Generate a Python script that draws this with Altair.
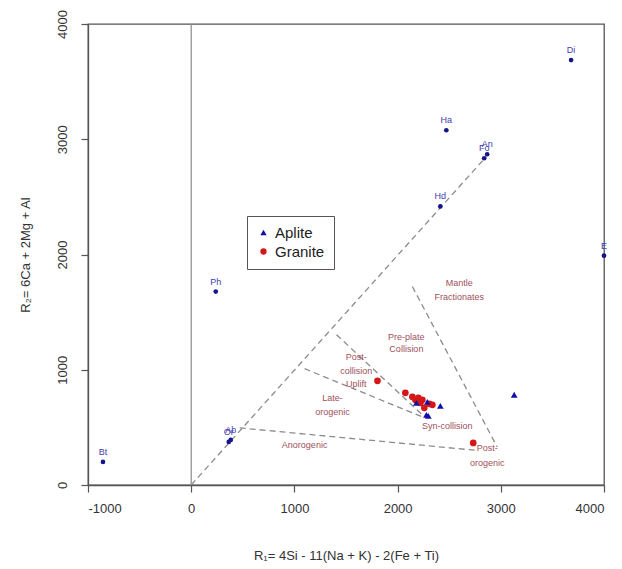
import altair as alt
import pandas as pd

# ---- data ----
granite_x = [1805, 2075, 2143, 2172, 2201, 2221, 2240, 2259, 2308, 2337, 2733]
granite_y = [904, 800, 765, 739, 757, 713, 739, 670, 704, 696, 365]
aplite_x = [2182, 2288, 2414, 2279, 2298, 3130]
aplite_y = [713, 722, 687, 609, 600, 783]

mineral_names = ["Bt", "Ph", "Or", "Ab", "Hd", "Ha", "Fo", "An", "Di", "E"]
mineral_x = [-855, 238, 364, 383, 2414, 2472, 2839, 2868, 3681, 4000]
mineral_y = [200, 1678, 374, 391, 2417, 3078, 2835, 2870, 3687, 1990]

seg_names = ["diag", "diag", "anoro", "anoro", "late", "late", "postcol", "postcol", "mantle", "mantle"]
seg_x = [0, 2860, 470, 2770, 1099, 2240, 1408, 2250, 2143, 2965]
seg_y = [0, 2850, 496, 300, 1009, 591, 1304, 600, 1722, 330]

region_text = ["Mantle", "Fractionates", "Pre-plate", "Collision", "Post-", "collision",
               "Uplift", "Late-", "orogenic", "Syn-collision", "Anorogenic", "Post-", "orogenic"]
region_x = [2598, 2598, 2085, 2085, 1600, 1600, 1600, 1370, 1370, 2482, 1099, 2868, 2868]
region_y = [1757, 1635, 1287, 1183, 1113, 991, 878, 757, 635, 513, 348, 322, 191]

x_ticks = [-1000, 0, 1000, 2000, 3000, 4000]
y_ticks = [0, 1000, 2000, 3000, 4000]

# ---- tables ----
samples = pd.DataFrame({
    "x": granite_x + aplite_x,
    "y": granite_y + aplite_y,
    "type": ["Granite"] * len(granite_x) + ["Aplite"] * len(aplite_x),
})
minerals = pd.DataFrame({"name": mineral_names, "x": mineral_x, "y": mineral_y})
segs = pd.DataFrame({"seg": seg_names, "x": seg_x, "y": seg_y, "order": list(range(len(seg_x)))})
regions = pd.DataFrame({"t": region_text, "x": region_x, "y": region_y})
zero = pd.DataFrame({"x": [0]})

xscale = alt.Scale(domain=[-1000, 4000], nice=False, zero=False)
yscale = alt.Scale(domain=[0, 4000], nice=False, zero=False)

common_axis = dict(grid=False, tickSize=7, labelExpr="'' + datum.value",
                   domainColor="#555", tickColor="#555",
                   labelColor="#333", titleColor="#333", labelFont="Liberation Sans",
                   titleFont="Liberation Sans", labelFontSize=13, titleFontSize=13,
                   titleFontWeight="normal", domainWidth=1.3, tickWidth=1.2)

xax = alt.Axis(values=x_ticks, labelPadding=10, titlePadding=34,
               title="R₁= 4Si - 11(Na + K) - 2(Fe + Ti)", **common_axis)
yax = alt.Axis(values=y_ticks, labelAngle=270, labelAlign="center",
               labelBaseline="bottom", labelPadding=12, titlePadding=24,
               title="R₂= 6Ca + 2Mg + Al", **common_axis)

X = alt.X("x:Q", scale=xscale, axis=xax)
Y = alt.Y("y:Q", scale=yscale, axis=yax)

vline = alt.Chart(zero).mark_rule(color="#8a8a8a", strokeWidth=1.2).encode(
    x=alt.X("x:Q", scale=xscale, axis=xax))

lines = alt.Chart(segs).mark_line(color="#8c8c8c", strokeWidth=1.3, strokeDash=[6, 4]).encode(
    x=X, y=Y, detail="seg:N", order="order:Q")

region_lbl = alt.Chart(regions).mark_text(color="#a0505c", fontSize=9, font="Liberation Sans").encode(
    x=X, y=Y, text="t:N")

mins = alt.Chart(minerals).mark_circle(color="#14148c", size=22, opacity=1).encode(x=X, y=Y)
min_lbl = alt.Chart(minerals).mark_text(color="#4040b0", fontSize=9, dy=-10,
                                        font="Liberation Sans").encode(x=X, y=Y, text="name:N")

leg = dict(title=None, orient="none", legendX=159, legendY=192,
           labelFontSize=15, symbolSize=40, padding=9,
           strokeColor="#555", fillColor="white", rowPadding=3,
           labelFont="Liberation Sans", labelColor="#222")

pts = alt.Chart(samples).mark_point(filled=True, size=45, opacity=1).encode(
    x=X, y=Y,
    color=alt.Color("type:N", scale=alt.Scale(domain=["Aplite", "Granite"], range=["#1010a8", "#d41818"]),
                    legend=alt.Legend(**leg)),
    shape=alt.Shape("type:N", scale=alt.Scale(domain=["Aplite", "Granite"], range=["triangle-up", "circle"]),
                    legend=alt.Legend(**leg)),
)

chart = alt.layer(vline, lines, region_lbl, mins, min_lbl, pts).properties(
    width=516, height=461,
    background="white",
    autosize=alt.AutoSizeParams(type="none"),
    padding={"left": 88, "top": 24, "right": 18, "bottom": 84},
).configure_view(stroke="#555", strokeWidth=1.3)

chart.save("out.html", embed_options={"renderer": "svg", "actions": False})
